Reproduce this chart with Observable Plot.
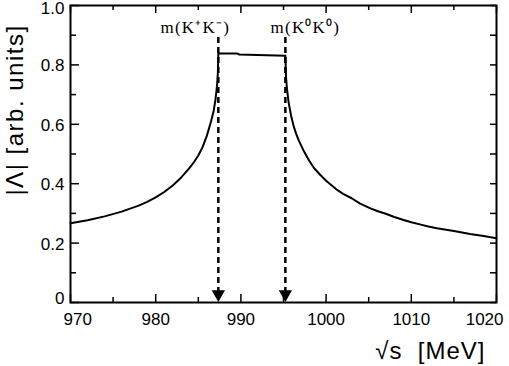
<!DOCTYPE html>
<html>
<head>
<meta charset="utf-8">
<script src="https://cdn.jsdelivr.net/npm/d3@7"></script>
<script src="https://cdn.jsdelivr.net/npm/@observablehq/plot@0.6"></script>
<style>
  html, body { margin: 0; padding: 0; background: #fff; }
</style>
</head>
<body>
<div id="chart"></div>
<script>
// ---- data ----
const sqrtS = [970, 972, 974, 976, 978, 979, 980, 981, 982, 983, 984, 984.5, 985, 985.5, 986, 986.5, 986.8, 987, 987.2, 987.3, 987.35,
  989.6, 989.8, 995.22,
  995.3, 995.4, 995.6, 995.9, 996.2, 996.5, 996.8, 997.4, 998, 998.6, 999.3, 1000, 1001.3, 1002, 1003, 1004, 1005.2, 1006, 1007, 1008, 1009.1, 1010, 1011, 1012, 1013, 1015, 1016.9, 1018.5, 1020];
const lambda = [0.267, 0.277, 0.290, 0.306, 0.326, 0.339, 0.354, 0.372, 0.394, 0.421, 0.454, 0.473, 0.495, 0.523, 0.561, 0.610, 0.645, 0.680, 0.730, 0.775, 0.838,
  0.838, 0.835, 0.831,
  0.758, 0.721, 0.674, 0.628, 0.593, 0.567, 0.545, 0.509, 0.478, 0.452, 0.430, 0.410, 0.379, 0.366, 0.351, 0.333, 0.317, 0.308, 0.299, 0.288, 0.278, 0.270, 0.263, 0.256, 0.250, 0.241, 0.231, 0.224, 0.216];
const thresholds = [987.35, 995.22];
const thresholdLabels = ["m(K\u207AK\u207B)", "m(K\u2070K\u2070)"];
const xMajor = [970, 980, 990, 1000, 1010, 1020];
const xMinor = [975, 985, 995, 1005, 1015];
const yMajor = [0, 0.2, 0.4, 0.6, 0.8, 1.0];
const yMinor = [0.1, 0.3, 0.5, 0.7, 0.9];
const yTickLabels = ["0", "0.2", "0.4", "0.6", "0.8", "1.0"];
const xTitle = "\u221As\u00A0\u00A0[MeV]";
const yTitle = "|\u039B| [arb. units]";

const curve = sqrtS.map((s, i) => ({s, v: lambda[i]}));
const yTicks = yMajor.map((v, i) => ({v, label: yTickLabels[i]}));

const W = 509, H = 366;
const mL = 70, mR = 13, mT = 5, mB = 64;
const pW = W - mL - mR, pH = H - mT - mB;
const serif = "'Liberation Serif', 'Times New Roman', serif";

const chart = Plot.plot({
  width: W,
  height: H,
  marginLeft: mL,
  marginRight: mR,
  marginTop: mT,
  marginBottom: mB,
  style: {fontFamily: "'Liberation Sans', Arial, sans-serif", fontSize: "17px", background: "#fff", color: "#000"},
  x: {domain: [970, 1020], axis: null},
  y: {domain: [0, 1], axis: null},
  marks: [
    // ticks (inward)
    Plot.ruleX(xMajor, {x: d => d, insetTop: pH - 8, stroke: "#000", strokeWidth: 1.5}),
    Plot.ruleX(xMinor, {x: d => d, insetTop: pH - 5, stroke: "#000", strokeWidth: 1.5}),
    Plot.ruleX(xMajor, {x: d => d, insetBottom: pH - 8, stroke: "#000", strokeWidth: 1.5}),
    Plot.ruleX(xMinor, {x: d => d, insetBottom: pH - 5, stroke: "#000", strokeWidth: 1.5}),
    Plot.ruleY(yMajor, {y: d => d, insetRight: pW - 9, stroke: "#000", strokeWidth: 1.5}),
    Plot.ruleY(yMinor, {y: d => d, insetRight: pW - 6, stroke: "#000", strokeWidth: 1.5}),
    Plot.ruleY(yMajor.concat(yMinor), {y: d => d, insetLeft: pW - 6, stroke: "#000", strokeWidth: 1.5}),
    Plot.frame({stroke: "#000", strokeWidth: 2}),
    // x tick labels
    Plot.text(xMajor.slice(1, -1), {x: d => d, frameAnchor: "bottom", dy: 17, lineAnchor: "middle", text: d => String(d), fill: "#000"}),
    Plot.text(xMajor.slice(0, 1), {x: d => d, frameAnchor: "bottom", dy: 17, dx: -7, textAnchor: "start", lineAnchor: "middle", text: d => String(d), fill: "#000"}),
    Plot.text(xMajor.slice(-1), {x: d => d, frameAnchor: "bottom", dy: 17, dx: 7, textAnchor: "end", lineAnchor: "middle", text: d => String(d), fill: "#000"}),
    // y tick labels
    Plot.text(yTicks.slice(1, -1), {y: "v", text: "label", frameAnchor: "left", dx: -6, dy: 1, textAnchor: "end", lineAnchor: "middle", fill: "#000"}),
    Plot.text(yTicks.slice(0, 1), {y: "v", text: "label", frameAnchor: "left", dx: -6, dy: -4, textAnchor: "end", lineAnchor: "middle", fill: "#000"}),
    Plot.text(yTicks.slice(-1), {y: "v", text: "label", frameAnchor: "left", dx: -6, dy: 3, textAnchor: "end", lineAnchor: "middle", fill: "#000"}),
    // axis titles
    Plot.text([xTitle], {frameAnchor: "bottom-right", dx: -11, dy: 56, textAnchor: "end", lineAnchor: "bottom", fontSize: 24, fill: "#000"}),
    Plot.text([yTitle], {frameAnchor: "left", dx: -48, dy: -44, rotate: -90, textAnchor: "middle", lineAnchor: "bottom", fontSize: 24, fill: "#000"}),
    // threshold markers
    Plot.ruleX(thresholds, {x: d => d, y1: 0.03, y2: 0.895, stroke: "#000", strokeWidth: 2.5, strokeDasharray: "6,4"}),
    Plot.dot(thresholds, {x: d => d, y: 0.028, symbol: "triangle", r: 4, rotate: 180, fill: "#000", stroke: "#000"}),
    Plot.text([thresholdLabels[0]], {x: () => thresholds[0], y: () => 0.926, dx: -23, textAnchor: "middle", lineAnchor: "middle", fontFamily: serif, fontSize: 17, fill: "#000"}),
    Plot.text([thresholdLabels[1]], {x: () => thresholds[1], y: () => 0.926, dx: 20, textAnchor: "middle", lineAnchor: "middle", fontFamily: serif, fontSize: 17, fill: "#000"}),
    // curve
    Plot.line(curve, {x: "s", y: "v", stroke: "#000", strokeWidth: 2, curve: "linear"})
  ]
});

document.getElementById("chart").appendChild(chart);

// widen letter spacing of titles to match the reference
d3.select(chart).selectAll("text").each(function() {
  const t = this.textContent;
  if (t === yTitle) this.setAttribute("letter-spacing", "1.5");
  else if (t === xTitle) this.setAttribute("letter-spacing", "1");
  else if (thresholdLabels.includes(t)) this.setAttribute("letter-spacing", "1.2");
});
</script>
</body>
</html>
